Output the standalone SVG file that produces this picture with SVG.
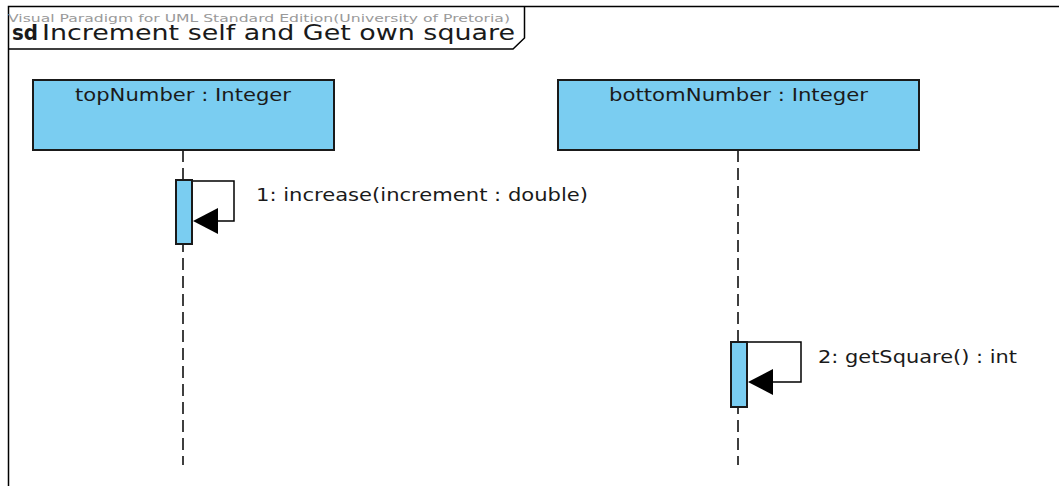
<svg xmlns="http://www.w3.org/2000/svg" width="1059" height="486" viewBox="0 0 1059 486">
<defs>
<style>
.frame{fill:none;stroke:#000;stroke-width:1.5}
.box{fill:#7ACDF1;stroke:#1a1a1a;stroke-width:2}
.act{fill:#7ACDF1;stroke:#1a1a1a;stroke-width:2}
.life{stroke:#000;stroke-width:1.5;stroke-dasharray:12 6;fill:none}
.msg{fill:none;stroke:#000;stroke-width:1.5}
.lbl{font-family:"DejaVu Sans",Verdana,sans-serif;font-size:18px;fill:#1a1a1a}
.wm{font-family:"DejaVu Sans",Verdana,sans-serif;font-size:11px;fill:#9a9a9a}
.title{font-family:"DejaVu Sans",Verdana,sans-serif;font-size:22px;fill:#1a1a1a}
</style>
</defs>
<rect width="1059" height="486" fill="#fff"/>
<g id="frame">
<path class="frame" d="M8.5,490 L8.5,6.5 L1062,6.5"/>
<path class="frame" d="M8.5,49 L513,49 L524.5,38 L524.5,6.5"/>
<text class="wm" x="8" y="22" textLength="502" lengthAdjust="spacingAndGlyphs">Visual Paradigm for UML Standard Edition(University of Pretoria)</text>
<text class="title" x="12" y="40" font-weight="bold" textLength="26" lengthAdjust="spacingAndGlyphs">sd</text>
<text class="title" x="42" y="40" textLength="473" lengthAdjust="spacingAndGlyphs">Increment self and Get own square</text>
</g>
<g id="connectors">
<line class="life" x1="183" y1="150" x2="183" y2="465"/>
<line class="life" x1="738" y1="150" x2="738" y2="465"/>
<path class="msg" d="M192,181 L234,181 L234,221 L218,221"/>
<path class="msg" d="M747,342 L801,342 L801,382 L773,382"/>
<path d="M193,221 L218,208 L218,234 Z" fill="#000"/>
<path d="M748,382 L773,369 L773,395 Z" fill="#000"/>
</g>
<g id="topNumber">
<rect class="box" x="33" y="80" width="301" height="70"/>
<text class="lbl" x="75" y="101" textLength="216" lengthAdjust="spacingAndGlyphs">topNumber : Integer</text>
</g>
<g id="bottomNumber">
<rect class="box" x="558" y="80" width="361" height="70"/>
<text class="lbl" x="609" y="101" textLength="259" lengthAdjust="spacingAndGlyphs">bottomNumber : Integer</text>
</g>
<g id="act1">
<rect class="act" x="176" y="180" width="16" height="64"/>
</g>
<g id="act2">
<rect class="act" x="731" y="342" width="16" height="65"/>
</g>
<g id="labels">
<text class="lbl" x="256" y="201" textLength="332" lengthAdjust="spacingAndGlyphs">1: increase(increment : double)</text>
<text class="lbl" x="818" y="363" textLength="199" lengthAdjust="spacingAndGlyphs">2: getSquare() : int</text>
</g>
</svg>
